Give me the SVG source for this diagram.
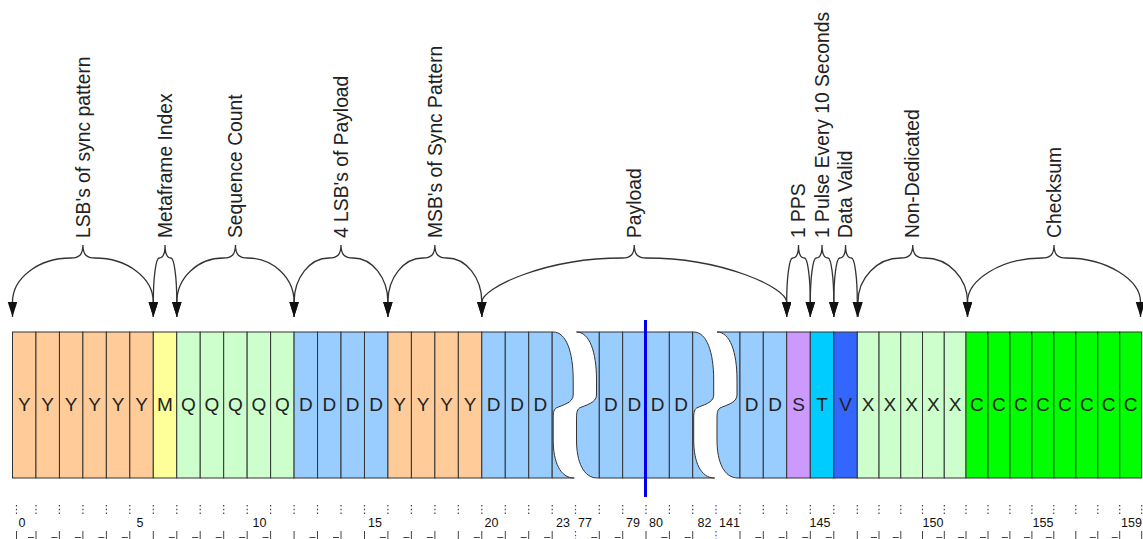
<svg xmlns="http://www.w3.org/2000/svg" width="1143" height="539" viewBox="0 0 1143 539">
<style>
.cell{stroke:#333;stroke-width:1}
.Y{fill:#FFCC99}.M{fill:#FFFF99}.Q{fill:#CCFFCC}.D{fill:#99CCFF}.S{fill:#CC99FF}.T{fill:#00CCFF}.V{fill:#3366FF}.X{fill:#CCFFCC}.C{fill:#00FF00}
.lt{font-family:"Liberation Sans",Arial,sans-serif;font-size:19px;fill:#222;text-anchor:middle}
.lbl{font-family:"Liberation Sans",Arial,sans-serif;font-size:19.3px;fill:#222}
.brace{fill:none;stroke:#333;stroke-width:1.3;marker-start:url(#arr);marker-end:url(#arr)}
.rn{font-family:"Liberation Sans",Arial,sans-serif;font-size:12.5px;fill:#111}
.tk{fill:none;stroke:#444;stroke-width:1}
.dot{fill:none;stroke:#444;stroke-width:1.2;stroke-dasharray:1.5 2.2}
</style>
<defs>
<marker id="arr" markerUnits="userSpaceOnUse" markerWidth="16" markerHeight="10" refX="15" refY="4.75" orient="auto-start-reverse"><path d="M0,0 L15,4.75 L0,9.5 Z" fill="#111"/></marker>
</defs>
<g id="cells">
<g id="c0"><rect class="cell Y" x="12.5" y="332" width="23.47" height="146"/><text class="lt" x="24.23" y="411">Y</text></g>
<g id="c1"><rect class="cell Y" x="35.97" y="332" width="23.47" height="146"/><text class="lt" x="47.7" y="411">Y</text></g>
<g id="c2"><rect class="cell Y" x="59.43" y="332" width="23.47" height="146"/><text class="lt" x="71.16" y="411">Y</text></g>
<g id="c3"><rect class="cell Y" x="82.9" y="332" width="23.47" height="146"/><text class="lt" x="94.63" y="411">Y</text></g>
<g id="c4"><rect class="cell Y" x="106.36" y="332" width="23.47" height="146"/><text class="lt" x="118.09" y="411">Y</text></g>
<g id="c5"><rect class="cell Y" x="129.83" y="332" width="23.47" height="146"/><text class="lt" x="141.56" y="411">Y</text></g>
<g id="c6"><rect class="cell M" x="153.29" y="332" width="23.47" height="146"/><text class="lt" x="165.02" y="411">M</text></g>
<g id="c7"><rect class="cell Q" x="176.76" y="332" width="23.47" height="146"/><text class="lt" x="188.49" y="411">Q</text></g>
<g id="c8"><rect class="cell Q" x="200.22" y="332" width="23.47" height="146"/><text class="lt" x="211.95" y="411">Q</text></g>
<g id="c9"><rect class="cell Q" x="223.69" y="332" width="23.47" height="146"/><text class="lt" x="235.42" y="411">Q</text></g>
<g id="c10"><rect class="cell Q" x="247.15" y="332" width="23.47" height="146"/><text class="lt" x="258.88" y="411">Q</text></g>
<g id="c11"><rect class="cell Q" x="270.62" y="332" width="23.47" height="146"/><text class="lt" x="282.35" y="411">Q</text></g>
<g id="c12"><rect class="cell D" x="294.08" y="332" width="23.47" height="146"/><text class="lt" x="305.81" y="411">D</text></g>
<g id="c13"><rect class="cell D" x="317.55" y="332" width="23.47" height="146"/><text class="lt" x="329.28" y="411">D</text></g>
<g id="c14"><rect class="cell D" x="341.01" y="332" width="23.47" height="146"/><text class="lt" x="352.74" y="411">D</text></g>
<g id="c15"><rect class="cell D" x="364.48" y="332" width="23.47" height="146"/><text class="lt" x="376.21" y="411">D</text></g>
<g id="c16"><rect class="cell Y" x="387.94" y="332" width="23.47" height="146"/><text class="lt" x="399.67" y="411">Y</text></g>
<g id="c17"><rect class="cell Y" x="411.41" y="332" width="23.47" height="146"/><text class="lt" x="423.14" y="411">Y</text></g>
<g id="c18"><rect class="cell Y" x="434.87" y="332" width="23.47" height="146"/><text class="lt" x="446.6" y="411">Y</text></g>
<g id="c19"><rect class="cell Y" x="458.34" y="332" width="23.47" height="146"/><text class="lt" x="470.07" y="411">Y</text></g>
<g id="c20"><rect class="cell D" x="481.8" y="332" width="23.47" height="146"/><text class="lt" x="493.53" y="411">D</text></g>
<g id="c21"><rect class="cell D" x="505.27" y="332" width="23.47" height="146"/><text class="lt" x="517" y="411">D</text></g>
<g id="c22"><rect class="cell D" x="528.73" y="332" width="23.47" height="146"/><text class="lt" x="540.46" y="411">D</text></g>
<g id="c23"><path class="cell D" d="M552.2,332 L553.2,332 C566.2,332 573.2,352 573.2,380 L573.2,395 C573.2,403 562.2,405 556.2,408 C553.2,410 553.2,414 553.2,420 L553.2,440 C553.2,462 560.2,478 574.2,478 L552.2,478 Z"/></g>
<g id="c77"><path class="cell D" d="M599.3,332 L599.3,478 L597.5,478 C583.5,478 576.5,462 576.5,440 L576.5,420 C576.5,414 576.5,410 579.5,408 C585.5,405 596.5,403 596.5,395 L596.5,380 C596.5,352 589.5,332 576.5,332 Z"/></g>
<g id="c78"><rect class="cell D" x="599.3" y="332" width="23.35" height="146"/><text class="lt" x="610.98" y="411">D</text></g>
<g id="c79"><rect class="cell D" x="622.65" y="332" width="23.35" height="146"/><text class="lt" x="634.33" y="411">D</text></g>
<g id="c80"><rect class="cell D" x="646" y="332" width="23.35" height="146"/><text class="lt" x="657.68" y="411">D</text></g>
<g id="c81"><rect class="cell D" x="669.35" y="332" width="23.35" height="146"/><text class="lt" x="681.03" y="411">D</text></g>
<g id="c82"><path class="cell D" d="M692.7,332 L693.7,332 C706.7,332 713.7,352 713.7,380 L713.7,395 C713.7,403 702.7,405 696.7,408 C693.7,410 693.7,414 693.7,420 L693.7,440 C693.7,462 700.7,478 714.7,478 L692.7,478 Z"/></g>
<g id="c141"><path class="cell D" d="M740,332 L740,478 L738,478 C724,478 717,462 717,440 L717,420 C717,414 717,410 720,408 C726,405 737,403 737,395 L737,380 C737,352 730,332 717,332 Z"/></g>
<g id="c142"><rect class="cell D" x="740" y="332" width="23.3" height="146"/><text class="lt" x="751.65" y="411">D</text></g>
<g id="c143"><rect class="cell D" x="763.3" y="332" width="23.4" height="146"/><text class="lt" x="775" y="411">D</text></g>
<g id="c144"><rect class="cell S" x="786.7" y="332" width="23.6" height="146"/><text class="lt" x="798.5" y="411">S</text></g>
<g id="c145"><rect class="cell T" x="810.3" y="332" width="23.5" height="146"/><text class="lt" x="822.05" y="411">T</text></g>
<g id="c146"><rect class="cell V" x="833.8" y="332" width="23.5" height="146"/><text class="lt" x="845.55" y="411">V</text></g>
<g id="c147"><rect class="cell X" x="857.3" y="332" width="21.74" height="146"/><text class="lt" x="868.17" y="411">X</text></g>
<g id="c148"><rect class="cell X" x="879.04" y="332" width="21.74" height="146"/><text class="lt" x="889.91" y="411">X</text></g>
<g id="c149"><rect class="cell X" x="900.78" y="332" width="21.74" height="146"/><text class="lt" x="911.65" y="411">X</text></g>
<g id="c150"><rect class="cell X" x="922.52" y="332" width="21.74" height="146"/><text class="lt" x="933.39" y="411">X</text></g>
<g id="c151"><rect class="cell X" x="944.26" y="332" width="21.74" height="146"/><text class="lt" x="955.13" y="411">X</text></g>
<g id="c152"><rect class="cell C" x="966" y="332" width="21.96" height="146"/><text class="lt" x="976.98" y="411">C</text></g>
<g id="c153"><rect class="cell C" x="987.96" y="332" width="21.96" height="146"/><text class="lt" x="998.94" y="411">C</text></g>
<g id="c154"><rect class="cell C" x="1009.92" y="332" width="21.96" height="146"/><text class="lt" x="1020.9" y="411">C</text></g>
<g id="c155"><rect class="cell C" x="1031.88" y="332" width="21.96" height="146"/><text class="lt" x="1042.86" y="411">C</text></g>
<g id="c156"><rect class="cell C" x="1053.84" y="332" width="21.96" height="146"/><text class="lt" x="1064.82" y="411">C</text></g>
<g id="c157"><rect class="cell C" x="1075.8" y="332" width="21.96" height="146"/><text class="lt" x="1086.78" y="411">C</text></g>
<g id="c158"><rect class="cell C" x="1097.76" y="332" width="21.96" height="146"/><text class="lt" x="1108.74" y="411">C</text></g>
<g id="c159"><rect class="cell C" x="1119.72" y="332" width="21.96" height="146"/><text class="lt" x="1130.7" y="411">C</text></g>
</g>
<g id="marker-line"><line x1="645.5" y1="320" x2="645.5" y2="497" stroke="#0000EE" stroke-width="3"/></g>
<g id="connectors">
<path class="brace" d="M12.5,317 L12.5,302 C12.5,277.8 38.8,258 70.9,258 C78.9,258 82.9,255 82.9,245 C82.9,255 86.9,258 94.9,258 C127,258 153.3,277.8 153.3,302 L153.3,317"/>
<path class="brace" d="M153.3,317 L153.3,302 C153.3,277.8 155.95,258 159.15,258 C163.1,258 165.05,255 165.05,245 C165.05,255 167,258 170.95,258 C174.15,258 176.8,277.8 176.8,302 L176.8,317"/>
<path class="brace" d="M176.8,317 L176.8,302 C176.8,277.8 197.8,258 223.45,258 C231.45,258 235.45,255 235.45,245 C235.45,255 239.45,258 247.45,258 C273.1,258 294.1,277.8 294.1,302 L294.1,317"/>
<path class="brace" d="M294.1,317 L294.1,302 C294.1,277.8 309.8,258 329,258 C337,258 341,255 341,245 C341,255 345,258 353,258 C372.2,258 387.9,277.8 387.9,302 L387.9,317"/>
<path class="brace" d="M387.9,317 L387.9,302 C387.9,277.8 403.65,258 422.85,258 C430.85,258 434.85,255 434.85,245 C434.85,255 438.85,258 446.85,258 C466.05,258 481.8,277.8 481.8,302 L481.8,317"/>
<path class="brace" d="M481.8,317 L481.8,302 C481.8,288 545,258 622.25,258 C630.25,258 634.25,255 634.25,245 C634.25,255 638.25,258 646.25,258 C723.5,258 786.7,288 786.7,302 L786.7,317"/>
<path class="brace" d="M786.7,317 L786.7,302 C786.7,277.8 789.35,258 792.6,258 C796.53,258 798.5,255 798.5,245 C798.5,255 800.47,258 804.4,258 C807.65,258 810.3,277.8 810.3,302 L810.3,317"/>
<path class="brace" d="M810.3,317 L810.3,302 C810.3,277.8 812.95,258 816.18,258 C820.09,258 822.05,255 822.05,245 C822.05,255 824.01,258 827.93,258 C831.16,258 833.8,277.8 833.8,302 L833.8,317"/>
<path class="brace" d="M833.8,317 L833.8,302 C833.8,277.8 836.45,258 839.68,258 C843.59,258 845.55,255 845.55,245 C845.55,255 847.51,258 851.43,258 C854.66,258 857.3,277.8 857.3,302 L857.3,317"/>
<path class="brace" d="M858,317 L858,302 C858,277.8 877.25,258 900.75,258 C908.75,258 912.75,255 912.75,245 C912.75,255 916.75,258 924.75,258 C948.25,258 967.5,277.8 967.5,302 L967.5,317"/>
<path class="brace" d="M967.5,317 L967.5,302 C967.5,280 1001,258 1042,258 C1050,258 1054,255 1054,245 C1054,255 1058,258 1066,258 C1107,258 1140.5,280 1140.5,302 L1140.5,317"/>
</g>
<g id="labels">
<g id="l-lsb"><text class="lbl" transform="translate(89.6,238) rotate(-90)">LSB's of sync pattern</text></g>
<g id="l-meta"><text class="lbl" transform="translate(171.75,238) rotate(-90)">Metaframe Index</text></g>
<g id="l-seq"><text class="lbl" transform="translate(242.15,238) rotate(-90)">Sequence Count</text></g>
<g id="l-4lsb"><text class="lbl" transform="translate(347.7,238) rotate(-90)">4 LSB's of Payload</text></g>
<g id="l-msb"><text class="lbl" transform="translate(441.55,238) rotate(-90)">MSB's of Sync Pattern</text></g>
<g id="l-payload"><text class="lbl" transform="translate(640.95,238) rotate(-90)">Payload</text></g>
<g id="l-pps"><text class="lbl" transform="translate(805.2,238) rotate(-90)">1 PPS</text></g>
<g id="l-pulse"><text class="lbl" transform="translate(828.75,238) rotate(-90)">1 Pulse Every 10 Seconds</text></g>
<g id="l-valid"><text class="lbl" transform="translate(852.25,238) rotate(-90)">Data Valid</text></g>
<g id="l-nonded"><text class="lbl" transform="translate(919.45,238) rotate(-90)">Non-Dedicated</text></g>
<g id="l-checksum"><text class="lbl" transform="translate(1060.7,238) rotate(-90)">Checksum</text></g>
</g>
<g id="ruler">
<path class="dot" d="M16.5,505V516M36,505V516M59.4,505V516M82.9,505V516M106.4,505V516M129.8,505V516M153.3,505V516M176.8,505V516M200.2,505V516M223.7,505V516M247.2,505V516M270.6,505V516M294.1,505V516M317.5,505V516M341,505V516M364.5,505V516M387.9,505V516M411.4,505V516M434.9,505V516M458.3,505V516M481.8,505V516M505.3,505V516M528.7,505V516M552.2,505V516M599.3,505V516M622.7,505V516M646,505V516M669.4,505V516M692.7,505V516M740,505V516M763.3,505V516M786.7,505V516M810.3,505V516M833.8,505V516M857.3,505V516M879,505V516M900.8,505V516M922.5,505V516M944.3,505V516M966,505V516M988,505V516M1009.9,505V516M1031.9,505V516M1053.8,505V516M1075.8,505V516M1097.8,505V516M1119.7,505V516M1141.7,505V516"/>
<path class="tk" d="M16.5,531V539M36,531V539M59.4,531V539M82.9,531V539M106.4,531V539M129.8,531V539M153.3,531V539M176.8,531V539M200.2,531V539M223.7,531V539M247.2,531V539M270.6,531V539M294.1,531V539M317.5,531V539M341,531V539M364.5,531V539M387.9,531V539M411.4,531V539M434.9,531V539M458.3,531V539M481.8,531V539M505.3,531V539M528.7,531V539M552.2,531V539M599.3,531V539M622.7,531V539M646,531V539M669.4,531V539M692.7,531V539M740,531V539M763.3,531V539M786.7,531V539M810.3,531V539M833.8,531V539M857.3,531V539M879,531V539M900.8,531V539M922.5,531V539M944.3,531V539M966,531V539M988,531V539M1009.9,531V539M1031.9,531V539M1053.8,531V539M1075.8,531V539M1097.8,531V539M1119.7,531V539M1141.7,531V539"/>
<path class="tk" d="M28,537.5H34M51.4,537.5H57.4M74.9,537.5H80.9M98.4,537.5H104.4M121.8,537.5H127.8M168.8,537.5H174.8M192.2,537.5H198.2M215.7,537.5H221.7M239.2,537.5H245.2M262.6,537.5H268.6M309.5,537.5H315.5M333,537.5H339M379.9,537.5H385.9M403.4,537.5H409.4M426.9,537.5H432.9M473.8,537.5H479.8M497.3,537.5H503.3M520.7,537.5H526.7M544.2,537.5H550.2M591.3,537.5H597.3M614.7,537.5H620.7M661.4,537.5H667.4M684.7,537.5H690.7M755.3,537.5H761.3M778.7,537.5H784.7M802.3,537.5H808.3M825.8,537.5H831.8M871,537.5H877M892.8,537.5H898.8M936.3,537.5H942.3M958,537.5H964M980,537.5H986M1001.9,537.5H1007.9M1023.9,537.5H1029.9M1045.8,537.5H1051.8M1089.8,537.5H1095.8M1111.7,537.5H1117.7"/>
<path d="M575.5,505V516M716,505V516M575.5,531V539M716,531V539" fill="none" stroke="#3344FF" stroke-width="1.2" stroke-dasharray="1.5 2.2"/>
<text class="rn" x="18.5" y="526.5">0</text>
<text class="rn" x="136.5" y="526.5">5</text>
<text class="rn" x="252.5" y="526.5">10</text>
<text class="rn" x="368" y="526.5">15</text>
<text class="rn" x="484.5" y="526.5">20</text>
<text class="rn" x="556" y="526.5">23</text>
<text class="rn" x="578" y="526.5">77</text>
<text class="rn" x="626" y="526.5">79</text>
<text class="rn" x="649" y="526.5">80</text>
<text class="rn" x="697.5" y="526.5">82</text>
<text class="rn" x="719" y="526.5">141</text>
<text class="rn" x="809.5" y="526.5">145</text>
<text class="rn" x="922.5" y="526.5">150</text>
<text class="rn" x="1032.5" y="526.5">155</text>
<text class="rn" x="1121" y="526.5">159</text>
</g>
</svg>
